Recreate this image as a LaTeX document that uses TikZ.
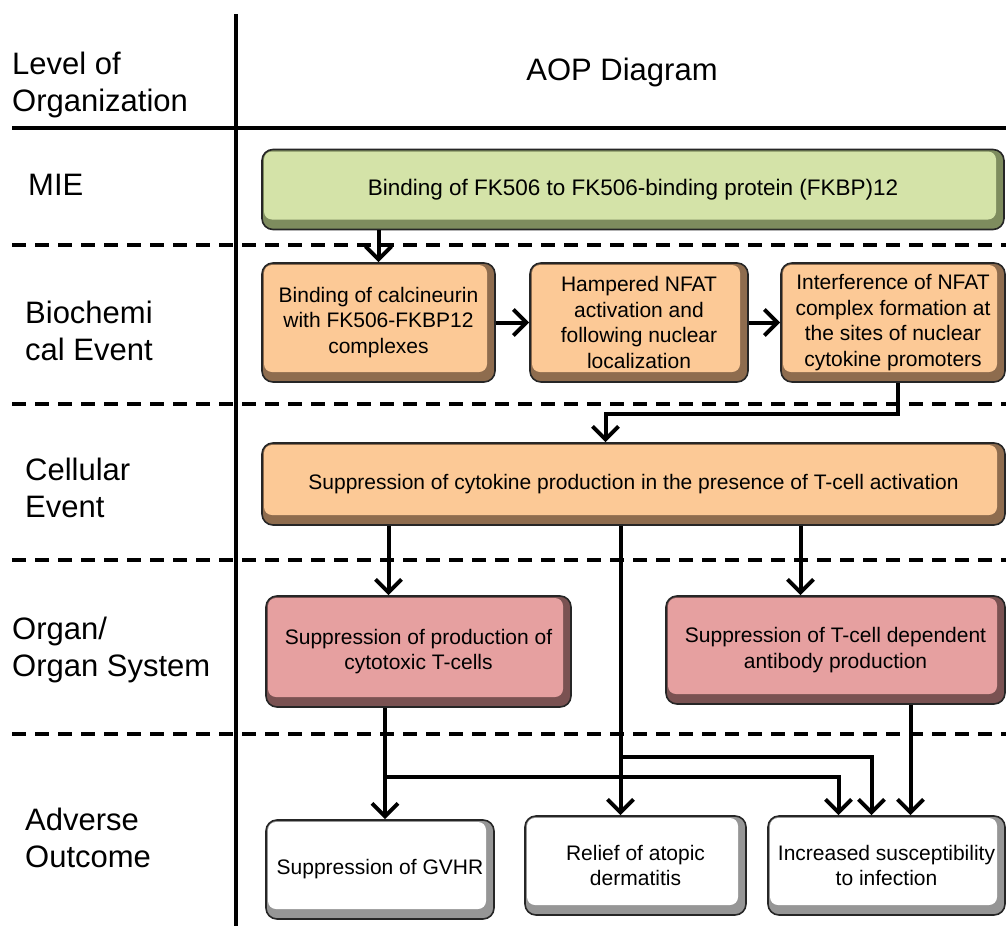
\documentclass[tikz,border=0pt]{standalone}
\usepackage{fontspec}
\setmainfont{Liberation Sans}
\usetikzlibrary{positioning, arrows.meta, calc}

\definecolor{mieface}{RGB}{212,227,168}
\definecolor{mieband}{RGB}{126,140,94}
\definecolor{keface}{RGB}{252,201,150}
\definecolor{keband}{RGB}{142,108,78}
\definecolor{orgface}{RGB}{230,160,160}
\definecolor{orgband}{RGB}{122,82,82}
\definecolor{aoface}{RGB}{255,255,255}
\definecolor{aoband}{RGB}{150,150,150}

\begin{document}
\begin{tikzpicture}[
  x=1pt, y=-1pt,
  >={Straight Barb[length=13pt,width=26pt]},
  aopbox/.style 2 args={draw=black!85, line width=1.6pt, rounded corners=11pt, align=center, inner sep=0pt,
    font=\fontsize{21}{25.5}\selectfont,
    path picture={
      \fill[#2, sharp corners] (path picture bounding box.south west) rectangle (path picture bounding box.north east);
      \fill[#1, rounded corners=8pt] ([shift={(2pt,-2pt)}]path picture bounding box.north west) rectangle ([shift={(-8pt,10pt)}]path picture bounding box.south east);
    }},
  miebox/.style={aopbox={mieface}{mieband}},
  kebox/.style={aopbox={keface}{keband}},
  orgbox/.style={aopbox={orgface}{orgband}},
  aobox/.style={aopbox={aoface}{aoband}},
  lvl/.style={anchor=west, align=left, inner sep=0pt, font=\fontsize{31}{37}\selectfont},
  levelline/.style={line width=3.5pt, dash pattern=on 14pt off 9pt},
  arr/.style={->, line width=4pt}
]
\useasboundingbox (0,0) rectangle (1006,926);

% Frame of the table
\draw[line width=4pt] (236,14) -- (236,926);
\draw[line width=4pt] (12,128) -- (1006,128);
\foreach \yy in {245,404,560,734} {
  \draw[levelline] (12,\yy) -- (1006,\yy);
}

% Headings and levels
\node[lvl] (head) at (12,85) {Level of\\Organization};
\node[font=\fontsize{31}{37}\selectfont] (title) at (622,72) {AOP Diagram};
\node[lvl] (lmie) at (28,185) {MIE};
\node[lvl] (lbio) at (25,331) {Biochemi\\cal Event};
\node[lvl] (lcell) at (25,488) {Cellular\\Event};
\node[lvl] (lorg) at (12,650) {Organ/\\Organ System};
\node[lvl] (lao) at (25,838) {Adverse\\Outcome};

% MIE
\node[miebox, minimum width=742pt, minimum height=80pt, font=\fontsize{22.5}{26}\selectfont] (mie) at (633,189.5)
  {Binding of FK506 to FK506-binding protein (FKBP)12};

% Biochemical events
\node[kebox, minimum width=233pt, minimum height=119pt] (bio1) at (378.5,322.5)
  {Binding of calcineurin\\with FK506-FKBP12\\complexes};
\node[kebox, minimum width=218pt, minimum height=119pt] (bio2) at (639,322.5)
  {Hampered NFAT\\activation and\\following nuclear\\localization};
\node[kebox, minimum width=224pt, minimum height=119pt] (bio3) at (893,322.5)
  {Interference of NFAT\\complex formation at\\the sites of nuclear\\cytokine promoters};

% Cellular event
\node[kebox, minimum width=743pt, minimum height=82pt] (cell) at (633.5,484)
  {Suppression of cytokine production in the presence of T-cell activation};

% Organ level
\node[orgbox, minimum width=305pt, minimum height=111pt] (org1) at (418.5,651.5)
  {Suppression of production of\\cytotoxic T-cells};
\node[orgbox, minimum width=339pt, minimum height=108pt] (org2) at (835.5,650)
  {Suppression of T-cell dependent\\antibody production};

% Adverse outcomes
\node[aobox, minimum width=228pt, minimum height=99pt] (adv1) at (380,869.5)
  {Suppression of GVHR};
\node[aobox, minimum width=221pt, minimum height=99pt] (adv2) at (635.5,865.5)
  {Relief of atopic\\dermatitis};
\node[aobox, minimum width=237pt, minimum height=99pt] (adv3) at (886.5,865.5)
  {Increased susceptibility\\to infection};

% Connectors
\draw[arr] (bio1.north |- mie.south) -- (bio1.north);
\draw[arr] (bio1.east) -- (bio2.west);
\draw[arr] (bio2.east) -- (bio3.west);
\draw[arr] ([xshift=5pt]bio3.south) -- ++(0,31) -| ([xshift=-28pt]cell.north);

\draw[arr] ([xshift=-30pt]org1.north |- cell.south) -- ([xshift=-30pt]org1.north);
\draw[arr] ([xshift=-35pt]org2.north |- cell.south) -- ([xshift=-35pt]org2.north);
\draw[arr] ([xshift=-15pt]adv2.north |- cell.south) -- ([xshift=-15pt]adv2.north);

\coordinate (j1) at (385,777);
\coordinate (j2) at (620.5,757);
\draw[arr] ([xshift=5pt]adv1.north |- org1.south) -- ([xshift=5pt]adv1.north);
\draw[arr] (j1) -| ([xshift=-48pt]adv3.north);
\draw[arr] (j2) -| ([xshift=-15pt]adv3.north);
\draw[arr] ([xshift=24pt]adv3.north |- org2.south) -- ([xshift=24pt]adv3.north);

\end{tikzpicture}
\end{document}
